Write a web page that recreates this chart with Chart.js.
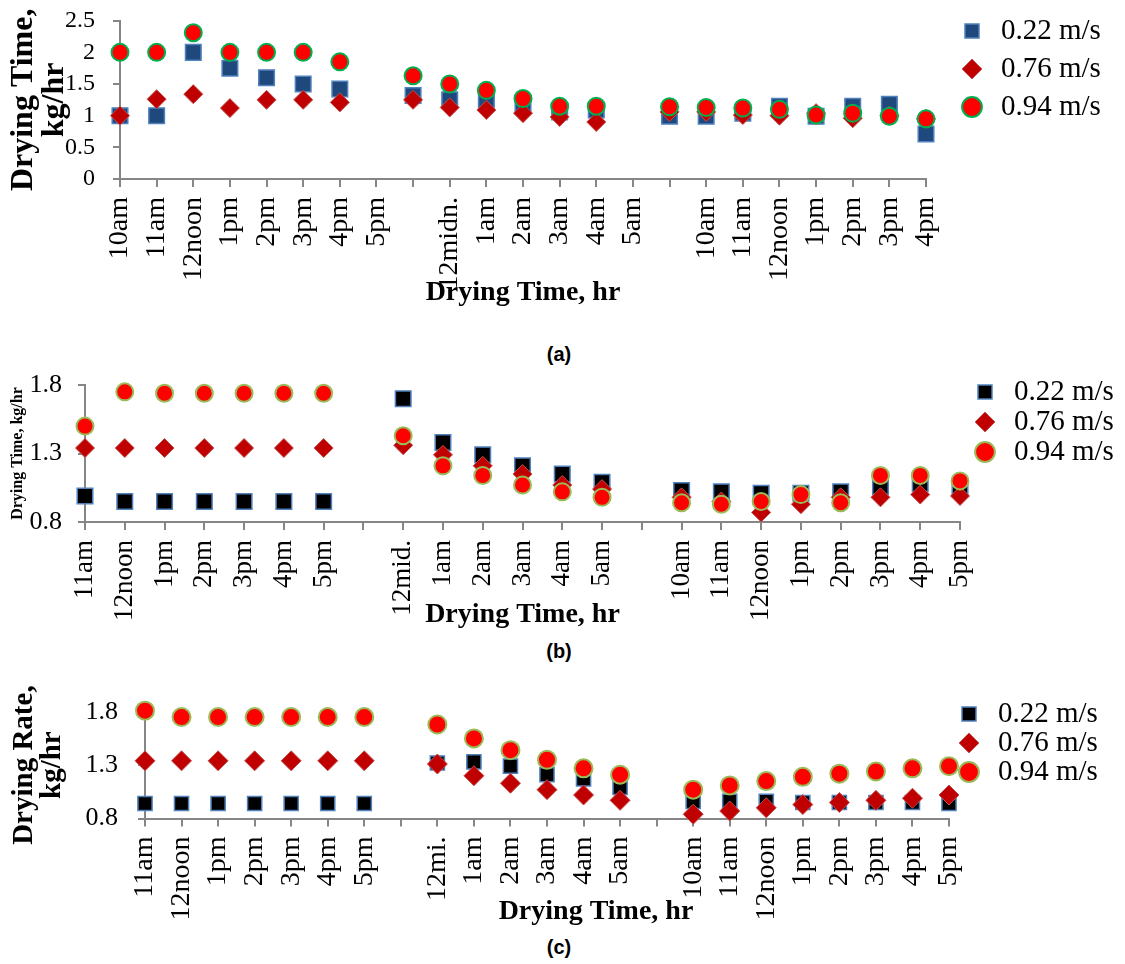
<!DOCTYPE html>
<html>
<head>
<meta charset="utf-8">
<title>Drying rate charts</title>
<script src="https://cdn.jsdelivr.net/npm/chart.js@4.4.0/dist/chart.umd.min.js"></script>
<style>
  body { margin: 0; background: #fff; }
  .panel { position: absolute; left: 0; width: 1125px; }
  .tag { position: absolute; left: 0; width: 1118px; text-align: center; line-height: 24px;
         font: bold 20px "Liberation Sans", Arial, sans-serif; color: #000; }
</style>
</head>
<body>
<div class="panel" style="top:0;height:315px"><canvas id="chart-a"></canvas></div>
<div class="tag" style="top:343px">(a)</div>
<div class="panel" style="top:355px;height:280px"><canvas id="chart-b"></canvas></div>
<div class="tag" style="top:640px">(b)</div>
<div class="panel" style="top:680px;height:252px"><canvas id="chart-c"></canvas></div>
<div class="tag" style="top:936px">(c)</div>
<script>
// series names
const speeds = ["0.22 m/s", "0.76 m/s", "0.94 m/s"];

// (a)
const labelsA = ["10am", "11am", "12noon", "1pm", "2pm", "3pm", "4pm", "5pm", "", "12midn.", "1am", "2am", "3am", "4am", "5am", "", "10am", "11am", "12noon", "1pm", "2pm", "3pm", "4pm"];
const a022 = [1.0, 1.0, 2.0, 1.75, 1.6, 1.5, 1.42, null, 1.32, 1.25, 1.25, 1.17, 1.06, 1.09, null, 0.99, 0.99, 1.04, 1.15, 0.99, 1.15, 1.18, 0.71];
const a076 = [1.0, 1.26, 1.34, 1.12, 1.25, 1.25, 1.21, null, 1.25, 1.13, 1.09, 1.04, 0.98, 0.9, null, 1.06, 1.06, 1.01, 1.0, 1.04, 0.96, 1.0, 0.95];
const a094 = [2.0, 2.0, 2.31, 2.0, 2.0, 2.0, 1.85, null, 1.63, 1.5, 1.4, 1.27, 1.15, 1.15, null, 1.14, 1.13, 1.12, 1.1, 1.01, 1.04, 0.99, 0.95];

// (b)
const labelsB = ["11am", "12noon", "1pm", "2pm", "3pm", "4pm", "5pm", "", "12mid.", "1am", "2am", "3am", "4am", "5am", "", "10am", "11am", "12noon", "1pm", "2pm", "3pm", "4pm", "5pm"];
const b022 = [0.99, 0.95, 0.95, 0.95, 0.95, 0.95, 0.95, null, 1.70, 1.38, 1.29, 1.21, 1.15, 1.09, null, 1.03, 1.02, 1.01, 1.01, 1.02, 1.06, 1.08, 1.06];
const b076 = [1.34, 1.34, 1.34, 1.34, 1.34, 1.34, 1.34, null, 1.36, 1.29, 1.21, 1.15, 1.07, 1.04, null, 0.98, 0.95, 0.87, 0.93, 0.98, 0.98, 1.0, 0.99];
const b094 = [1.50, 1.75, 1.74, 1.74, 1.74, 1.74, 1.74, null, 1.43, 1.21, 1.14, 1.07, 1.02, 0.98, null, 0.94, 0.93, 0.95, 1.0, 0.94, 1.14, 1.14, 1.10];

// (c)
const labelsC = ["11am", "12noon", "1pm", "2pm", "3pm", "4pm", "5pm", "", "12mi.", "1am", "2am", "3am", "4am", "5am", "", "10am", "11am", "12noon", "1pm", "2pm", "3pm", "4pm", "5pm"];
const c022 = [0.94, 0.94, 0.94, 0.94, 0.94, 0.94, 0.94, null, 1.32, 1.33, 1.29, 1.21, 1.17, 1.09, null, 0.96, 0.96, 0.96, 0.95, 0.95, 0.95, 0.95, 0.94];
const c076 = [1.34, 1.34, 1.34, 1.34, 1.34, 1.34, 1.34, null, 1.31, 1.20, 1.13, 1.07, 1.02, 0.97, null, 0.84, 0.87, 0.90, 0.93, 0.95, 0.97, 0.99, 1.02];
const c094 = [1.81, 1.75, 1.75, 1.75, 1.75, 1.75, 1.75, null, 1.68, 1.55, 1.44, 1.35, 1.27, 1.21, null, 1.07, 1.11, 1.15, 1.19, 1.22, 1.24, 1.27, 1.29];

const serif = "'Liberation Serif', 'Times New Roman', serif";
const axisGrey = "#868686";

function markers(squareFill, circleRing, size) {
  return [
    { pointStyle: "rect", pointRadius: size.sq, pointBackgroundColor: squareFill, pointBorderColor: "#4F81BD", pointBorderWidth: 1.5 },
    { pointStyle: "rectRot", pointRadius: size.di, pointBackgroundColor: "#C00000", pointBorderColor: "#C0504D", pointBorderWidth: 1 },
    { pointStyle: "circle", pointRadius: size.ci, pointBackgroundColor: "#FF0000", pointBorderColor: circleRing, pointBorderWidth: 2 },
  ];
}

function drawPanel(id, labels, series, look, o) {
  const datasets = series.map((data, i) => Object.assign({
    label: speeds[i],
    data: data,
    showLine: false,
    clip: false,
    yAxisID: "y",
    order: 3 - i, // circles on top
  }, look[i]));

  return new Chart(document.getElementById(id), {
    type: "line",
    data: { labels: labels, datasets: datasets },
    options: {
      responsive: true,
      maintainAspectRatio: false,
      animation: false,
      events: [],
      layout: { padding: { top: o.padT, bottom: o.padB, left: 0, right: o.padR } },
      plugins: {
        tooltip: { enabled: false },
        legend: {
          position: "right",
          align: "start",
          maxWidth: o.legPad + 148,
          labels: {
            usePointStyle: true,
            boxHeight: 14,
            padding: o.legPad,
            color: "#000",
            font: { family: serif, size: 29 },
            sort: (a, b) => a.datasetIndex - b.datasetIndex,
          },
        },
      },
      scales: {
        x: {
          type: "category",
          offset: false,
          grid: { display: true, drawOnChartArea: false, drawTicks: true, tickLength: 8, color: axisGrey, lineWidth: 2 },
          border: { display: true, color: axisGrey, width: 2 },
          ticks: { autoSkip: false, minRotation: 90, maxRotation: 90, padding: 10, color: "#000", font: { family: serif, size: o.xFont } },
          title: { display: true, text: o.xTitle, color: "#000", padding: 0, font: { family: serif, size: 28, weight: "bold", lineHeight: 1.2 } },
          afterFit: (s) => { s.height = o.xH; s.paddingLeft = 0; s.paddingRight = 0; },
        },
        y: {
          min: o.min,
          max: o.max,
          grid: { display: true, drawOnChartArea: false, drawTicks: true, tickLength: 7, color: axisGrey, lineWidth: 2 },
          border: { display: true, color: axisGrey, width: 2 },
          ticks: { autoSkip: false, stepSize: 0.5, padding: o.yPad, color: "#000", font: { family: serif, size: o.yFont }, callback: o.fmt },
          title: { display: true, text: o.yTitle, color: "#000", padding: { top: o.yTitlePad, bottom: 0 }, font: { family: serif, size: o.yTitleSize, weight: "bold", lineHeight: o.yTitleLH } },
          afterFit: (s) => { s.width = o.yW; s.paddingTop = o.chartTop; s.paddingBottom = 0; },
        },
        gap: {
          type: "linear",
          position: "right",
          display: true,
          grid: { display: false },
          border: { display: false },
          ticks: { display: false },
          afterFit: (s) => { s.width = o.gap; s.paddingTop = 0; s.paddingBottom = 0; },
        },
      },
    },
  });
}

const oneDecimal = (v) => Number(v).toFixed(1);

document.addEventListener("DOMContentLoaded", function () {
  drawPanel("chart-a", labelsA, [a022, a076, a094],
    markers("#1F497D", "#00B050", { sq: 11, di: 9.5, ci: 8.5 }),
    { padT: 7.5, padB: 5, padR: 19.5, legPad: 9, gap: 22.5, yW: 120, chartTop: 20.7, xH: 131, xFont: 28,
      xTitle: "Drying Time, hr",
      min: 0, max: 2.5, yPad: 18, yFont: 24, fmt: undefined,
      yTitle: ["Drying Time,", "kg/hr"], yTitleSize: 32, yTitleLH: 0.95, yTitlePad: 9 });

  drawPanel("chart-b", labelsB, [b022, b076, b094],
    markers("#000000", "#9BBB59", { sq: 11, di: 9.5, ci: 8.5 }),
    { padT: 21.5, padB: 3, padR: 6.5, legPad: 1, gap: 9.5, yW: 85, chartTop: 30, xH: 110, xFont: 27,
      xTitle: "Drying Time, hr",
      min: 0.8, max: 1.8, yPad: 16, yFont: 26, fmt: oneDecimal,
      yTitle: "Drying Time, kg/hr", yTitleSize: 16, yTitleLH: 1.2, yTitlePad: 8 });

  // the title of (c) sits right of the axis centre in the source figure
  drawPanel("chart-c", labelsC, [c022, c076, c094],
    markers("#000000", "#9BBB59", { sq: 10, di: 10, ci: 9 }),
    { padT: 19.5, padB: 3, padR: 22.5, legPad: 0, gap: 5.5, yW: 145, chartTop: 31.7, xH: 110.5, xFont: 28,
      xTitle: "              Drying Time, hr",
      min: 0.8, max: 1.8, yPad: 20, yFont: 26, fmt: oneDecimal,
      yTitle: ["Drying Rate,", "kg/hr"], yTitleSize: 29, yTitleLH: 0.97, yTitlePad: 10 });
});
</script>
</body>
</html>
